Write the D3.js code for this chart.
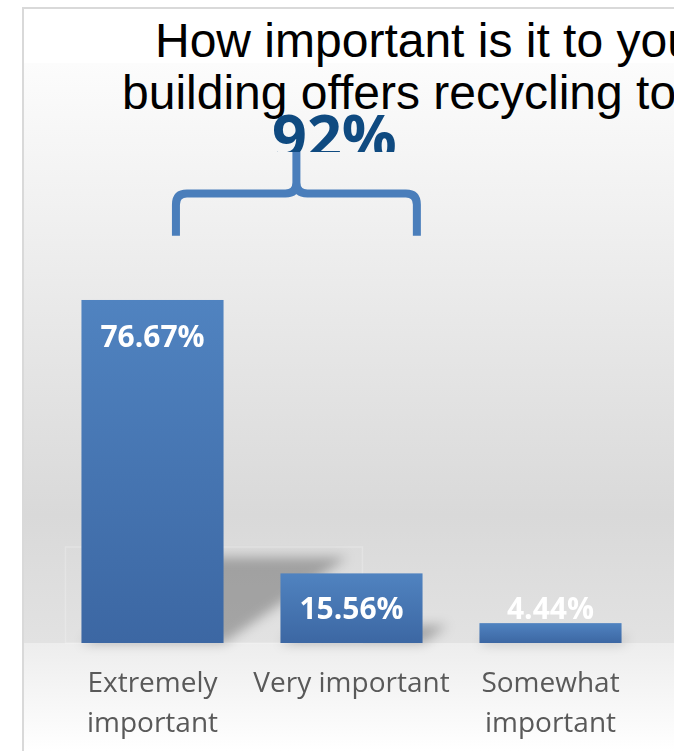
<!DOCTYPE html>
<html>
<head>
<meta charset="utf-8">
<script src="https://cdn.jsdelivr.net/npm/d3@7"></script>
<style>
  html, body { margin: 0; padding: 0; background: #fff; overflow: hidden; }
  svg { display: block; }
</style>
</head>
<body>
<svg id="chart" width="674" height="751"></svg>
<script>
var titleLines = ["How important is it to you", "building offers recycling to"];
var categories = ["Extremely important", "Very important", "Somewhat important"];
var tickLines = [["Extremely", "important"], ["Very important"], ["Somewhat", "important"]];
var values = [76.67, 15.56, 4.44];
var valueLabels = ["76.67%", "15.56%", "4.44%"];
var bracketLabel = "92%";

var svg = d3.select("#chart");
var defs = svg.append("defs");

// background gradients
var bg = defs.append("linearGradient").attr("id", "bgPlot")
    .attr("x1", 0).attr("y1", 0).attr("x2", 0).attr("y2", 1);
bg.append("stop").attr("offset", "0").attr("stop-color", "#fcfcfc");
bg.append("stop").attr("offset", "0.78").attr("stop-color", "#d9d9d9");
bg.append("stop").attr("offset", "1").attr("stop-color", "#e2e2e2");

var bgLow = defs.append("linearGradient").attr("id", "bgLow")
    .attr("x1", 0).attr("y1", 0).attr("x2", 0).attr("y2", 1);
bgLow.append("stop").attr("offset", "0").attr("stop-color", "#ededed");
bgLow.append("stop").attr("offset", "1").attr("stop-color", "#ffffff");

var barGrad = defs.append("linearGradient").attr("id", "barGrad")
    .attr("x1", 0).attr("y1", 0).attr("x2", 0).attr("y2", 1);
barGrad.append("stop").attr("offset", "0").attr("stop-color", "#5083c0");
barGrad.append("stop").attr("offset", "1").attr("stop-color", "#3c67a3");

defs.append("filter").attr("id", "blur")
    .attr("x", "-50%").attr("y", "-50%").attr("width", "200%").attr("height", "200%")
  .append("feGaussianBlur").attr("stdDeviation", 6);

defs.append("clipPath").attr("id", "clip92")
  .append("rect").attr("x", 0).attr("y", 0).attr("width", 674).attr("height", 152);

var margin = {top: 63, left: 24};
var baseline = 643;

var x = d3.scaleBand()
    .domain(categories)
    .range([53, 650])
    .paddingInner(0.286)
    .paddingOuter(0.143);

var y = d3.scaleLinear()
    .domain([0, 100])
    .range([baseline, baseline - 447.4]);

// frame and backgrounds
svg.append("rect").attr("x", 23).attr("y", 8).attr("width", 700).attr("height", 800)
    .attr("fill", "#fff");
svg.append("rect").attr("x", margin.left).attr("y", margin.top)
    .attr("width", 660).attr("height", baseline - margin.top)
    .attr("fill", "url(#bgPlot)");
svg.append("rect").attr("x", margin.left).attr("y", baseline)
    .attr("width", 660).attr("height", 751 - baseline)
    .attr("fill", "url(#bgLow)");
svg.append("rect").attr("x", 23).attr("y", 8).attr("width", 700).attr("height", 800)
    .attr("fill", "none").attr("stroke", "#d9d9d9").attr("stroke-width", 2);

// title
svg.append("g").selectAll("text")
    .data(titleLines)
    .enter().append("text")
      .attr("x", function(d, i) { return i === 0 ? 155 : 122; })
      .attr("y", function(d, i) { return 57 + i * 52; })
      .style("font", "48px 'Liberation Sans', Arial, sans-serif")
      .attr("fill", "#000")
      .text(function(d) { return d; });

var bw = x.bandwidth();

// faint reflection box behind first bars
svg.append("rect")
    .attr("x", x(categories[0]) - 16)
    .attr("y", baseline - 96)
    .attr("width", x(categories[1]) + 82 - (x(categories[0]) - 16))
    .attr("height", 96)
    .attr("fill", "none")
    .attr("stroke", "rgba(255,255,255,0.22)")
    .attr("stroke-width", 1.5);

// perspective shadows
svg.append("g").attr("filter", "url(#blur)")
  .selectAll("polygon")
  .data(values)
  .enter().append("polygon")
    .attr("points", function(d, i) {
      var x0 = x(categories[i]), x1 = x0 + bw;
      var h = y(0) - y(d), dx = h * 0.36, sh = h * 0.25;
      return [[x0, baseline], [x1, baseline], [x1 + dx, baseline - sh], [x0 + dx, baseline - sh]].join(" ");
    })
    .attr("fill", "#000")
    .attr("opacity", 0.27);

// bars
svg.append("g").selectAll("rect")
  .data(values)
  .enter().append("rect")
    .attr("x", function(d, i) { return x(categories[i]); })
    .attr("y", function(d) { return y(d); })
    .attr("width", bw)
    .attr("height", function(d) { return y(0) - y(d); })
    .attr("fill", "url(#barGrad)");

// value labels
svg.append("g").selectAll("text")
  .data(values)
  .enter().append("text")
    .attr("x", function(d, i) { return x(categories[i]) + bw / 2; })
    .attr("y", function(d) { return Math.min(y(d) + 47, y(0) - 24); })
    .attr("text-anchor", "middle")
    .style("font", "bold 30px 'Open Sans', 'Noto Sans', sans-serif")
    .attr("fill", "#fff")
    .text(function(d, i) { return valueLabels[i]; });

// category labels
var ticks = svg.append("g").selectAll("text")
  .data(tickLines)
  .enter().append("text")
    .attr("text-anchor", "middle")
    .style("font", "28px 'Open Sans', 'Noto Sans', sans-serif")
    .attr("fill", "#595959");
ticks.selectAll("tspan")
  .data(function(d, i) { return d.map(function(t) { return {t: t, i: i}; }); })
  .enter().append("tspan")
    .attr("x", function(d) { return x(categories[d.i]) + bw / 2; })
    .attr("y", function(d, j) { return 692 + j * 40; })
    .text(function(d) { return d.t; });

// bracket over first two bars
var bl = x(categories[0]) + bw * 0.665;
var br = x(categories[1]) + bw * 0.96;
var bm = (bl + br) / 2;
var bt = y(100) - 2;
var bb = y(91);
var r = 11;
var brace = d3.path();
brace.moveTo(bl, bb);
brace.lineTo(bl, bt + r);
brace.quadraticCurveTo(bl, bt, bl + r, bt);
brace.lineTo(bm - r, bt);
brace.quadraticCurveTo(bm, bt, bm, bt - r);
brace.lineTo(bm, 152);
brace.moveTo(br, bb);
brace.lineTo(br, bt + r);
brace.quadraticCurveTo(br, bt, br - r, bt);
brace.lineTo(bm + r, bt);
brace.quadraticCurveTo(bm, bt, bm, bt - r);

svg.append("text")
    .attr("x", bm + 38)
    .attr("y", 159)
    .attr("text-anchor", "middle")
    .attr("clip-path", "url(#clip92)")
    .style("font", "bold 61px 'Open Sans', 'Noto Sans', sans-serif")
    .attr("fill", "#0f4a80")
    .text(bracketLabel);

svg.append("path")
    .attr("d", brace.toString())
    .attr("fill", "none")
    .attr("stroke", "#4a7ebb")
    .attr("stroke-width", 8);
</script>
</body>
</html>
